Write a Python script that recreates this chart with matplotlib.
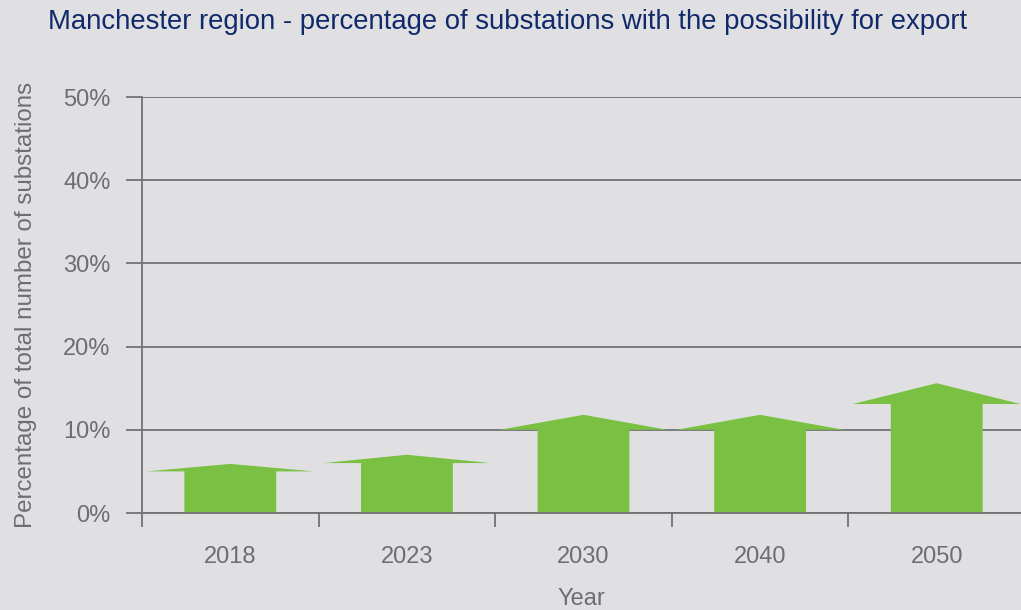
import matplotlib
matplotlib.use("Agg")
import matplotlib.pyplot as plt
from matplotlib.ticker import FixedLocator, FuncFormatter

# Data (percent)
years = ["2018", "2023", "2030", "2040", "2050"]
shoulder = [5.0, 6.0, 10.0, 10.0, 13.1]   # top of bar body
peak = [5.9, 7.0, 11.8, 11.8, 15.6]       # tip of arrow head
yticks = [0, 10, 20, 30, 40, 50]

BG = "#e0e0e2"
GREEN = "#7ac143"
GRID = "#727274"
TXT = "#6d6e71"
TITLE = "#10296a"

plt.rcParams['font.family'] = ['Liberation Sans', 'DejaVu Sans']

W, H = 1021, 610
fig = plt.figure(figsize=(W / 100, H / 100), dpi=100, facecolor=BG)
left, right, top, bottom = 142, 1021, 97, 513
ax = fig.add_axes([left / W, 1 - bottom / H, (right - left) / W, (bottom - top) / H])
ax.set_facecolor(BG)

body_w = 0.52
head_w = 0.95
for i, (s, p) in enumerate(zip(shoulder, peak)):
    xs = [i - body_w / 2, i - body_w / 2, i - head_w / 2, i, i + head_w / 2, i + body_w / 2, i + body_w / 2]
    ys = [0, s, s, p, s, s, 0]
    ax.fill(xs, ys, color=GREEN, lw=0, zorder=3)

ax.set_xlim(-0.5, 4.5 - 4 / 176.6)
ax.set_ylim(0, 50)

ax.set_yticks(yticks)
ax.yaxis.set_major_formatter(FuncFormatter(lambda v, _: f"{int(v)}%"))
ax.grid(axis='y', color=GRID, lw=1.3, zorder=1)
ax.set_axisbelow(True)

ax.xaxis.set_major_locator(FixedLocator([-0.5, 0.5, 1.5, 2.5, 3.5, 4.5]))
ax.xaxis.set_major_formatter(FuncFormatter(lambda v, _: ""))
ax.xaxis.set_minor_locator(FixedLocator(list(range(len(years)))))
ax.set_xticklabels(years, minor=True)

ax.tick_params(axis='y', length=11.5, width=1.3, color=GRID, labelsize=17, labelcolor=TXT, pad=11)
ax.tick_params(axis='x', which='major', length=10, width=1.3, color=GRID)
ax.tick_params(axis='x', which='minor', length=0, labelsize=17, labelcolor=TXT, pad=24)

for sp in ['top', 'right']:
    ax.spines[sp].set_visible(False)
for sp in ['left', 'bottom']:
    ax.spines[sp].set_color(GRID)
    ax.spines[sp].set_linewidth(1.3)
    ax.spines[sp].set_zorder(4)

ax.set_xlabel("Year", fontsize=17, color=TXT, labelpad=14)
ax.set_ylabel("Percentage of total number of substations", fontsize=17.4, color=TXT, labelpad=19)

fig.text(48 / W, 1 - 22 / H, "Manchester region - percentage of substations with the possibility for export",
         fontsize=19.8, color=TITLE, ha='left', va='center')

fig.savefig("out.png", dpi=100, facecolor=BG)
